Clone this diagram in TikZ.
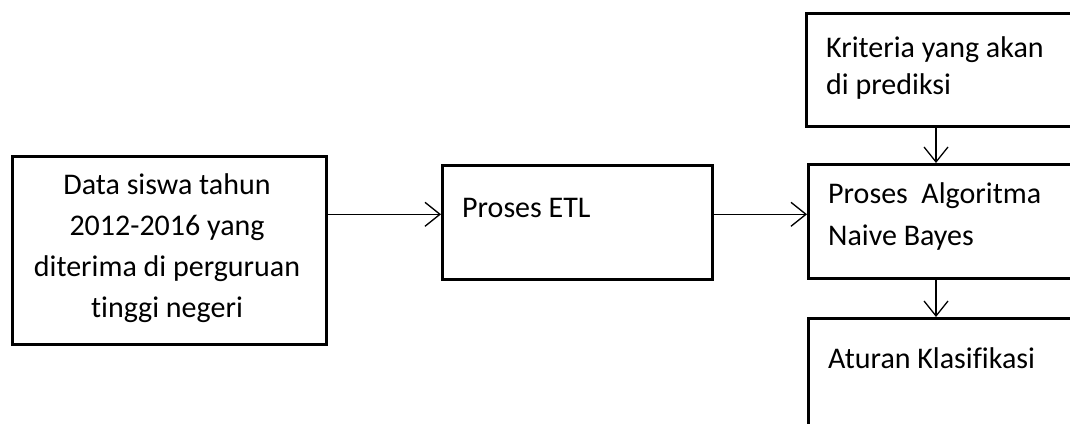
\documentclass[tikz,border=0pt]{standalone}
\usepackage{fontspec}
\setmainfont{Carlito}[Ligatures=NoCommon]
\usetikzlibrary{arrows.meta}
\begin{document}
\begin{tikzpicture}[x=1pt,y=-1pt,
  box/.style={draw, line width=2.6pt, anchor=north west, inner sep=0pt},
  lbl/.style={inner sep=0pt, font=\fontsize{30}{40}\selectfont},
  arr/.style={line width=1.3pt, -{Straight Barb[length=15pt,width=24pt,line width=1.3pt]}}]
\useasboundingbox (0,0) rectangle (1070,423);
\clip (0,0) rectangle (1070,423);

% boxes (the right-hand column runs past the page edge)
\node[box, minimum width=314pt, minimum height=188pt] (src) at (11,155) {};
\node[box, minimum width=270pt, minimum height=114pt] (etl) at (441,164) {};
\node[box, minimum width=300pt, minimum height=113pt] (krit) at (805,12) {};
\node[box, minimum width=300pt, minimum height=114pt] (nb) at (807,163) {};
\node[box, minimum width=300pt, minimum height=160pt] (rule) at (807,317) {};

% texts
\node[lbl, anchor=base, font=\fontsize{30}{41.3}\selectfont] (tsrc) at (167,194)
  {\begin{tabular}[t]{@{}c@{}}Data siswa tahun\\2012-2016 yang\\diterima di perguruan\\tinggi negeri\end{tabular}};
\node[lbl, anchor=base west] (tetl) at (462,217) {Proses ETL};
\node[lbl, anchor=base west] (tkrit) at (826,57)
  {\begin{tabular}[t]{@{}l@{}}Kriteria yang akan\\[-3pt]di prediksi\end{tabular}};
\node[lbl, anchor=base west] (tnb) at (828,203)
  {\begin{tabular}[t]{@{}l@{}}Proses\ \ Algoritma\\[2pt]Naive Bayes\end{tabular}};
\node[lbl, anchor=base west] (trule) at (828,368) {Aturan Klasifikasi};

% connectors
\path (etl.west) ++(0,-8) coordinate (e1);
\coordinate (vx) at (936,0);
\draw[arr] (src.east |- e1) -- (e1);
\draw[arr] (etl.east |- e1) -- (nb.west |- e1);
\draw[arr] (krit.south -| vx) -- (nb.north -| vx);
\draw[arr] (nb.south -| vx) -- (rule.north -| vx);
\end{tikzpicture}
\end{document}
